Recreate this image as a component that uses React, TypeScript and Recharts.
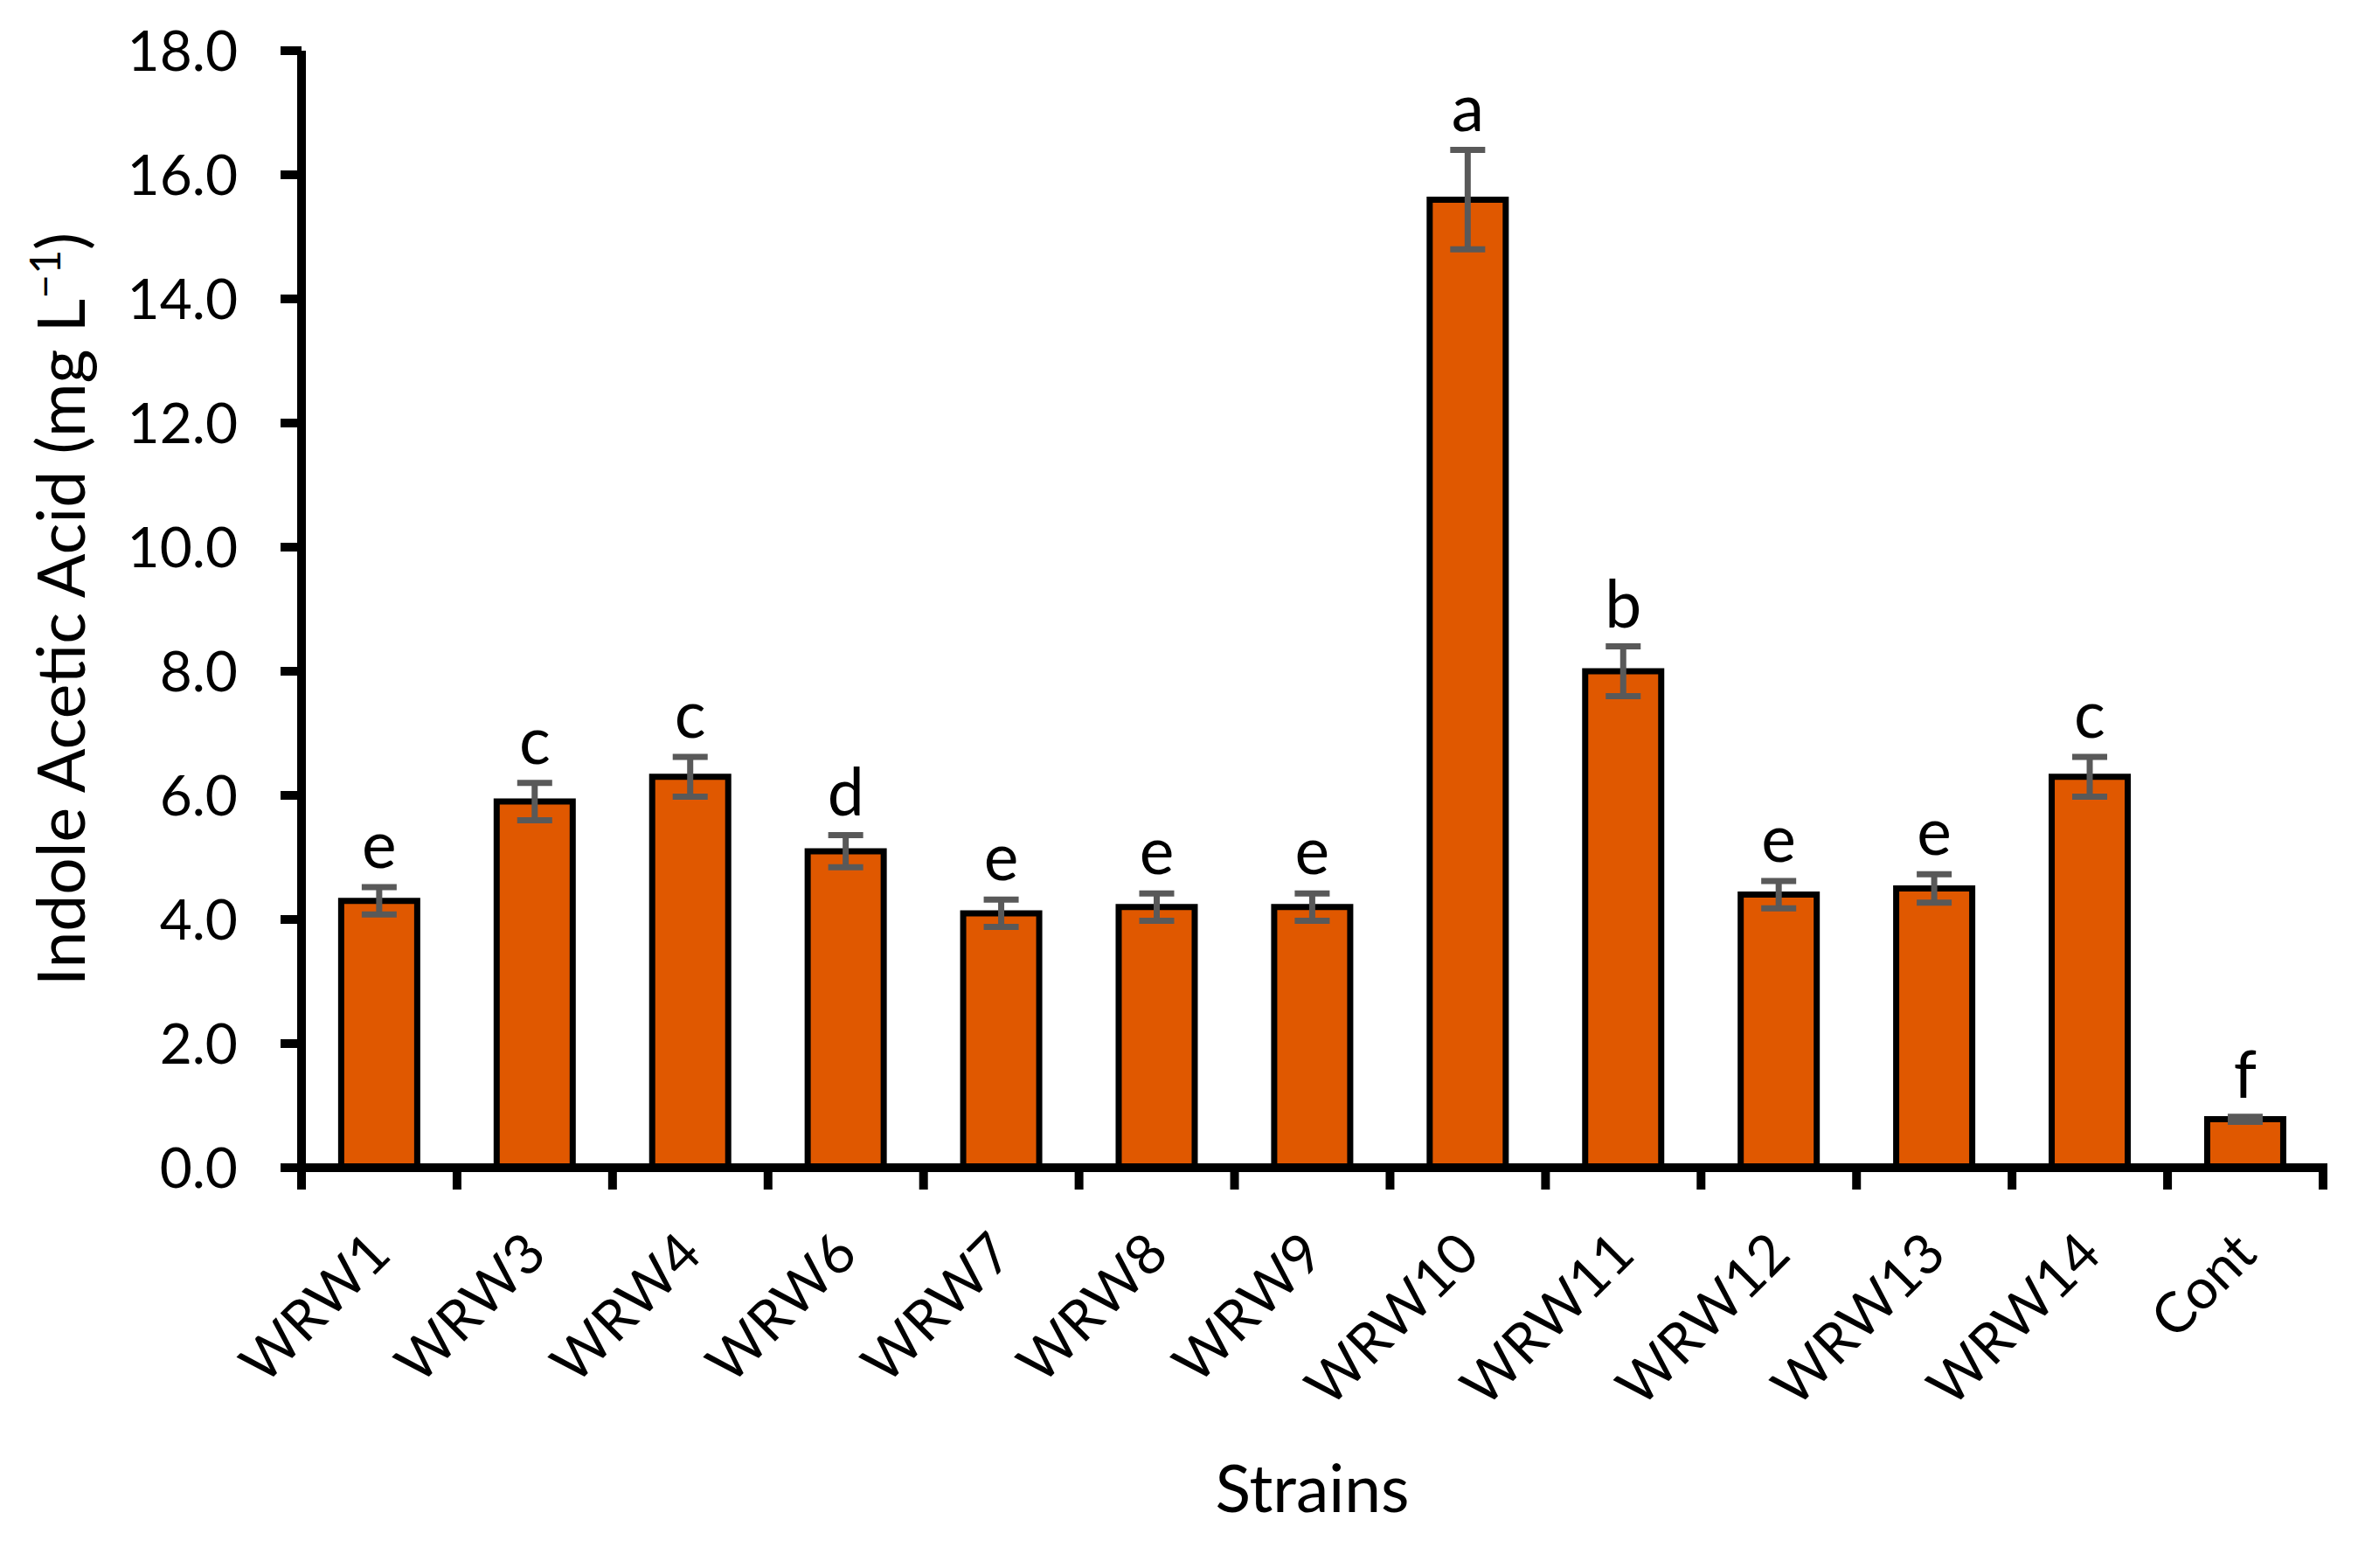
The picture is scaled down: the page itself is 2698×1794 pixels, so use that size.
import { BarChart, Bar, XAxis, YAxis, ErrorBar, LabelList, Label } from "recharts"

// IAA produced by each strain (mg L-1)
const strains = ["WRW1", "WRW3", "WRW4", "WRW6", "WRW7", "WRW8", "WRW9", "WRW10", "WRW11", "WRW12", "WRW13", "WRW14", "Cont"]
const iaaMeans = [4.3, 5.9, 6.3, 5.1, 4.1, 4.2, 4.2, 15.6, 8.0, 4.4, 4.5, 6.3, 0.78]
const iaaErrors = [0.22, 0.3, 0.32, 0.26, 0.22, 0.22, 0.22, 0.8, 0.4, 0.22, 0.23, 0.32, 0.04]
const groupLetters = ["e", "c", "c", "d", "e", "e", "e", "a", "b", "e", "e", "c", "f"]
const yTicks = [0, 2, 4, 6, 8, 10, 12, 14, 16, 18]

const data = strains.map((name, i) => ({
  name,
  iaa: iaaMeans[i],
  err: iaaErrors[i],
  letter: groupLetters[i],
}))

const FONT = "Lato, 'Open Sans', sans-serif"
const W = 2698
const H = 1794
const PLOT_LEFT = 345
const PLOT_RIGHT = 2658

function StrainTick(props: any) {
  const { x, y, payload, index } = props
  const half = payload?.offset ?? (PLOT_RIGHT - PLOT_LEFT) / strains.length / 2
  const ax = x + 16
  const ay = y + 102
  return (
    <g>
      <line x1={x - half} x2={x - half} y1={y} y2={y + 25} stroke="#000" strokeWidth={10} />
      {index === strains.length - 1 && (
        <line x1={x + half} x2={x + half} y1={y - 5} y2={y + 25} stroke="#000" strokeWidth={10} />
      )}
      <text
        x={ax}
        y={ay}
        transform={`rotate(-45 ${ax} ${ay})`}
        textAnchor="end"
        fontFamily={FONT}
        fontSize={64}
        fill="#000"
      >
        {payload.value}
      </text>
    </g>
  )
}

function LetterLabel(props: any) {
  const vb = props.viewBox ?? props
  const x = vb.x ?? props.x
  const y = vb.y ?? props.y
  const width = vb.width ?? props.width
  const height = vb.height ?? props.height
  const i = props.index
  const pxPerUnit = height / iaaMeans[i]
  const errTop = y - iaaErrors[i] * pxPerUnit
  return (
    <text x={x + width / 2} y={errTop - 22} textAnchor="middle" fontFamily={FONT} fontSize={75} fill="#000">
      {props.value}
    </text>
  )
}

function YTitle(props: any) {
  const { viewBox } = props
  const cx = viewBox.x + 97
  const cy = viewBox.y + viewBox.height / 2
  return (
    <text x={cx} y={cy} transform={`rotate(-90 ${cx} ${cy})`} textAnchor="middle" fontFamily={FONT} fontSize={75} fill="#000">
      Indole Acetic Acid (mg L
      <tspan dy={-28} fontSize={48}>−1</tspan>
      <tspan dy={28}>)</tspan>
    </text>
  )
}

function XTitle(props: any) {
  const { viewBox } = props
  return (
    <text x={viewBox.x + viewBox.width / 2} y={viewBox.y + 394} textAnchor="middle" fontFamily={FONT} fontSize={75} fill="#000">
      Strains
    </text>
  )
}

export default function App() {
  return (
    <div style={{ position: "absolute", left: 0, top: 0, width: W, height: H, background: "#fff" }}>
      <BarChart
        width={W}
        height={H}
        data={data}
        margin={{ top: 58, right: W - PLOT_RIGHT, bottom: 0, left: 0 }}
        barCategoryGap="25.5%"
      >
        <XAxis
          dataKey="name"
          height={H - 1336}
          interval={0}
          tickSize={0}
          tickMargin={0}
          tickLine={false}
          axisLine={{ stroke: "#000", strokeWidth: 10 }}
          tick={<StrainTick />}
        >
          <Label content={<XTitle />} />
        </XAxis>
        <YAxis
          width={PLOT_LEFT}
          domain={[0, 18]}
          ticks={yTicks}
          tickFormatter={(v) => v.toFixed(1)}
          tickSize={24}
          tickMargin={49}
          tickLine={{ stroke: "#000", strokeWidth: 10 }}
          axisLine={{ stroke: "#000", strokeWidth: 10 }}
          tick={{ fill: "#000", fontSize: 64, fontFamily: FONT }}
        >
          <Label content={<YTitle />} />
        </YAxis>
        <Bar dataKey="iaa" fill="#E05800" stroke="#000" strokeWidth={7} isAnimationActive={false}>
          <ErrorBar dataKey="err" width={20} strokeWidth={7} stroke="#595959" direction="y" />
          <LabelList dataKey="letter" content={<LetterLabel />} />
        </Bar>
      </BarChart>
    </div>
  )
}
